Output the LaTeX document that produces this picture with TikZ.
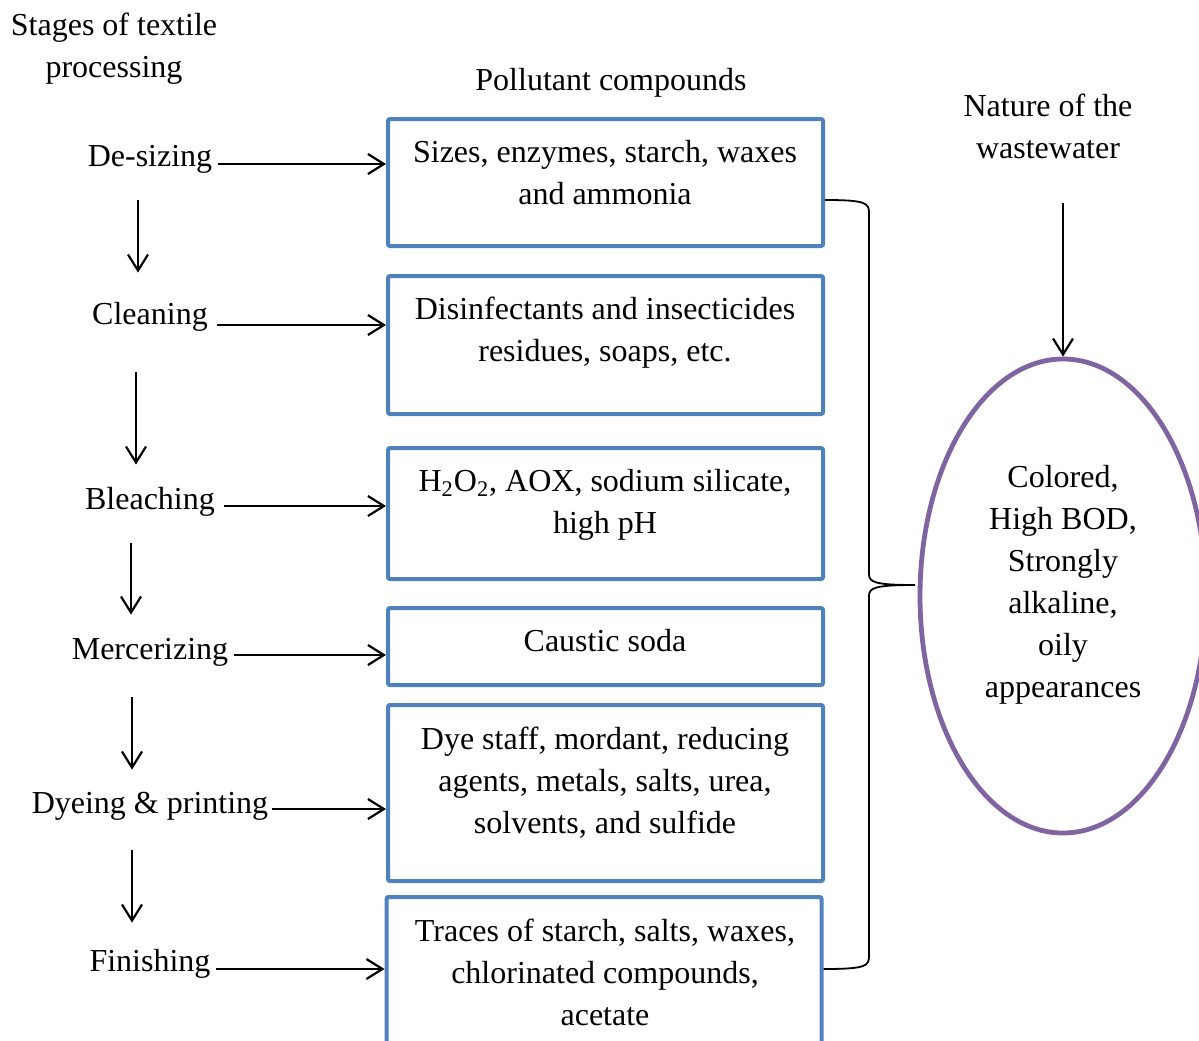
\documentclass[tikz,border=0pt]{standalone}
\usepackage{fontspec}
\setmainfont{Liberation Serif}
\usetikzlibrary{arrows.meta,shapes.geometric}
\definecolor{boxblue}{HTML}{4F81BD}
\definecolor{ellpurple}{HTML}{8064A2}
\begin{document}
\begin{tikzpicture}[x=0.5pt,y=-0.5pt,
  every node/.style={font=\fontsize{16}{21}\selectfont},
  txt/.style={align=center,inner sep=0pt},
  stage/.style={inner xsep=2.5pt,inner ysep=0pt,text height=11pt,text depth=3.5pt,anchor=base},
  pbox/.style={draw=boxblue,line width=2pt,rounded corners=1pt,minimum width=217.5pt,inner sep=0pt},
  arr/.style={-{Straight Barb[length=8pt,width=10pt]},line width=1.1pt},
  brace/.style={line width=0.9pt}]
\useasboundingbox (0,0) rectangle (1199,1040);

% headers
\node[txt] (hstage) at (114,49) {Stages of textile\\processing};
\node[txt] (hpoll) at (611,83) {Pollutant compounds};
\node[txt] (hnat) at (1048,126) {Nature of the\\wastewater};

% stages
\node[stage] (ds) at (150,166) {De-sizing};
\node[stage] (cl) at (150,324) {Cleaning};
\node[stage] (bl) at (150,509) {Bleaching};
\node[stage] (me) at (150,659) {Mercerizing};
\node[stage] (dy) at (150,813) {Dyeing \& printing};
\node[stage] (fi) at (150,971) {Finishing};

% pollutant boxes
\node[pbox,minimum height=63.5pt] (b1) at (605.5,182.5) {};
\node[pbox,minimum height=69pt] (b2) at (605.5,345) {};
\node[pbox,minimum height=65.5pt] (b3) at (605.5,513.5) {};
\node[pbox,minimum height=38.5pt] (b4) at (605.5,646.5) {};
\node[pbox,minimum height=88pt] (b5) at (605.5,793) {};
\node[pbox,minimum height=81.5pt] (b6) at (604,978.5) {};

\node[txt] (t1) at (605,172.5) {Sizes, enzymes, starch, waxes\\and ammonia};
\node[txt] (t2) at (605,332.5) {Disinfectants and insecticides\\residues, soaps, etc.};
\node[txt] (t3) at (605,504.5) {H\textsubscript{2}O\textsubscript{2}, AOX, sodium silicate,\\high pH};
\node[txt] (t4) at (605,641) {Caustic soda};
\node[txt] (t5) at (605,782.5) {Dye staff, mordant, reducing\\agents, metals, salts, urea,\\solvents, and sulfide};
\node[txt] (t6) at (605,972) {Traces of starch, salts, waxes,\\chlorinated compounds,\\acetate};

% ellipse
\node[draw=ellpurple,line width=2.4pt,ellipse,minimum width=143pt,minimum height=237pt,inner sep=0pt] (ell) at (1063,596) {};
\node[txt] (et) at (1063,585) {Colored,\\High BOD,\\Strongly\\alkaline,\\oily\\appearances};

% horizontal arrows
\coordinate (a1) at ([yshift=1pt]ds.base east);
\coordinate (a2) at ([yshift=-0.5pt,xshift=2pt]cl.base east);
\coordinate (a3) at ([yshift=1.5pt,xshift=2pt]bl.base east);
\coordinate (a4) at ([yshift=2pt]me.base east);
\coordinate (a5) at ([yshift=2pt,xshift=-1pt]dy.base east);
\coordinate (a6) at ([yshift=1pt]fi.base east);
\draw[arr] (a1) -- (a1 -| b1.west);
\draw[arr] (a2) -- (a2 -| b2.west);
\draw[arr] (a3) -- (a3 -| b3.west);
\draw[arr] (a4) -- (a4 -| b4.west);
\draw[arr] (a5) -- (a5 -| b5.west);
\draw[arr] (a6) -- (a6 -| b6.west);

% vertical arrows
\draw[arr] ([xshift=-6pt,yshift=-13.5pt]ds.south) -- ([xshift=-6pt,yshift=14.5pt]cl.north);
\draw[arr] ([xshift=-7pt,yshift=-20.5pt]cl.south) -- ([xshift=-7pt,yshift=11pt]bl.north);
\draw[arr] ([xshift=-9.5pt,yshift=-13.5pt]bl.south) -- ([xshift=-9.5pt,yshift=11pt]me.north);
\draw[arr] ([xshift=-9pt,yshift=-15.5pt]me.south) -- ([xshift=-9pt,yshift=10.5pt]dy.north);
\draw[arr] ([xshift=-9pt,yshift=-15pt]dy.south) -- ([xshift=-9pt,yshift=13pt]fi.north);

% nature arrow
\coordinate (n0) at ([yshift=-22pt]hnat.south);
\draw[arr] (n0 -| ell.north) -- (ell.north);

% brace
\coordinate (btip) at (915,585);
\draw[brace] ([yshift=-8.75pt]b1.east) .. controls (866,200) and (869,203) .. (869,213)
  -- (869,574) .. controls (869,582) and (874,585) .. (btip)
  .. controls (874,585) and (869,588) .. (869,596)
  -- (869,956) .. controls (869,966) and (866,969) .. ([yshift=4.75pt]b6.east);
\end{tikzpicture}
\end{document}
